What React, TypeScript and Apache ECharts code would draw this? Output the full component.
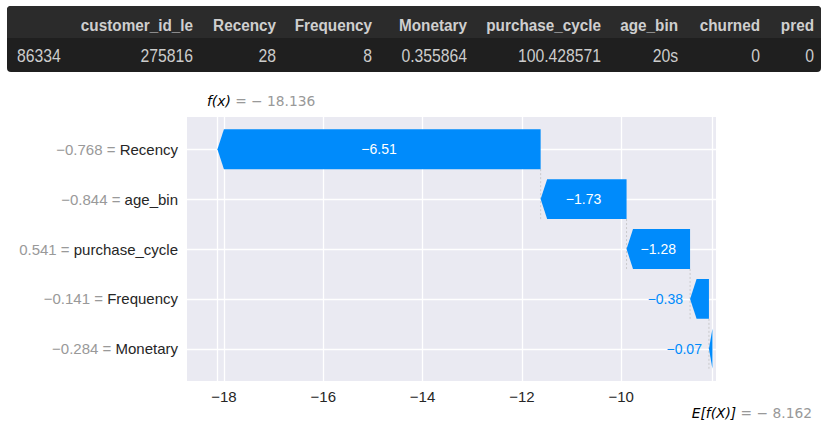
import React, { useEffect, useRef } from "react";
import * as echarts from "echarts";

// ---- table data ----
const tableColumns = ["", "customer_id_le", "Recency", "Frequency", "Monetary", "purchase_cycle", "age_bin", "churned", "pred"];
const tableRow = ["86334", "275816", "28", "8", "0.355864", "100.428571", "20s", "0", "0"];

// ---- waterfall data ----
const features = ["Recency", "age_bin", "purchase_cycle", "Frequency", "Monetary"];
const featureValues = [-0.768, -0.844, 0.541, -0.141, -0.284];
const shapValues = [-6.51, -1.73, -1.28, -0.38, -0.07];
const baseValue = -8.162;
const fxValue = -18.136;
const xTicks = [-18, -16, -14, -12, -10];

// layout (not data)
const colRightEdges = [0, 193, 276, 372, 467, 601, 678, 760, 814];

const BLUE = "#008bfb";
const fmt = (v: number, d: number) => v.toFixed(d).replace("-", "\u2212");

let measureCtx: CanvasRenderingContext2D | null = null;
function textWidth(t: string, size: number) {
  if (!measureCtx) measureCtx = document.createElement("canvas").getContext("2d");
  if (!measureCtx) return t.length * size * 0.55;
  measureCtx.font = `${size}px "Liberation Sans", Arial, sans-serif`;
  return measureCtx.measureText(t).width;
}

export default function App() {
  const ref = useRef<HTMLDivElement>(null);
  useEffect(() => {
    if (!ref.current) return;
    const chart = echarts.init(ref.current, undefined, { renderer: "svg" });

    // cumulative from base at bottom row upwards
    const bars: number[][] = [];
    let running = baseValue;
    for (let i = features.length - 1; i >= 0; i--) {
      const start = running;
      const end = running + shapValues[i];
      bars[i] = [start, end, i, shapValues[i]];
      running = end;
    }
    const connectors: number[][] = [];
    for (let i = 0; i < features.length - 1; i++) {
      connectors.push([bars[i][0], i]);
    }

    const font = '"Liberation Sans", Arial, sans-serif';
    const valSize = 14;

    const tableGraphics: any[] = [
      { type: "rect", shape: { x: 7, y: 6, width: 814, height: 66, r: 4 }, style: { fill: "#1f1f1f" } },
      { type: "rect", shape: { x: 7, y: 6, width: 814, height: 32, r: [4, 4, 0, 0] }, style: { fill: "#2b2b2b" } },
    ];
    tableColumns.forEach((c, i) => {
      if (!c) return;
      tableGraphics.push({
        type: "text",
        x: colRightEdges[i],
        y: 25,
        scaleX: 0.9,
        style: { text: c, x: 0, y: 0, align: "right", verticalAlign: "middle", fill: "#cfcfcf", fontSize: 17, fontWeight: "bold", fontFamily: font },
      });
    });
    tableRow.forEach((v, i) => {
      tableGraphics.push({
        type: "text",
        x: i === 0 ? 17 : colRightEdges[i],
        y: 56,
        scaleX: 0.9,
        style: { text: v, x: 0, y: 0, align: i === 0 ? "left" : "right", verticalAlign: "middle", fill: "#cccccc", fontSize: 17.5, fontFamily: font },
      });
    });

    const option: any = {
      animation: false,
      backgroundColor: "#ffffff",
      grid: { left: 187, top: 117, width: 529, height: 264, show: true, backgroundColor: "#eaeaf2", borderWidth: 0 },
      xAxis: {
        type: "value",
        min: -18.745,
        max: -8.09,
        axisLine: { show: false },
        axisTick: { show: false },
        splitLine: { show: false },
        axisLabel: {
          customValues: xTicks,
          formatter: (v: number) => fmt(v, 0),
          color: "#262626",
          fontSize: 15,
          fontFamily: font,
          margin: 8,
        },
      },
      yAxis: {
        type: "value",
        inverse: true,
        min: -0.645,
        max: 4.645,
        axisLine: { show: false },
        axisTick: { show: false },
        splitLine: { show: false },
        axisLabel: {
          customValues: features.map((_, i) => i),
          formatter: (v: number) => {
            const i = Math.round(v);
            return `{g|${fmt(featureValues[i], 3)} = }{b|${features[i]}}`;
          },
          margin: 9,
          rich: {
            g: { color: "#999999", fontSize: 15, fontFamily: font },
            b: { color: "#262626", fontSize: 15, fontFamily: font },
          },
        },
      },
      graphic: [
        ...tableGraphics,
        {
          type: "text",
          x: 207,
          y: 101,
          style: {
            text: "{i|f(x)}{g| = \u2212 18.136}",
            verticalAlign: "middle",
            rich: {
              i: { fill: "#000000", fontSize: 13.8, fontFamily: "DejaVu Sans", fontStyle: "italic" },
              g: { fill: "#999999", fontSize: 13.8, fontFamily: "DejaVu Sans" },
            },
          },
        },
        {
          type: "text",
          x: 812,
          y: 413,
          style: {
            text: "{i|E[f(X)]}{g| = \u2212 8.162}",
            align: "right",
            verticalAlign: "middle",
            rich: {
              i: { fill: "#000000", fontSize: 13.8, fontFamily: "DejaVu Sans", fontStyle: "italic" },
              g: { fill: "#999999", fontSize: 13.8, fontFamily: "DejaVu Sans" },
            },
          },
        },
      ],
      series: [
        {
          type: "custom",
          z: 1,
          silent: true,
          data: connectors,
          renderItem: (params: any, api: any) => {
            const x = api.value(0);
            const r = api.value(1);
            const a = api.coord([x, r + 0.4]);
            const b = api.coord([x, r + 1.4]);
            return {
              type: "line",
              shape: { x1: a[0], y1: a[1], x2: b[0], y2: b[1] },
              style: { stroke: "#bbbbbb", lineWidth: 0.7, lineDash: [2, 2] },
            };
          },
          markLine: {
            silent: true,
            z: 1,
            symbol: ["none", "none"],
            label: { show: false },
            lineStyle: { color: "#ffffff", width: 1.3, type: "solid" },
            emphasis: { disabled: true },
            data: [
              ...xTicks.map((t) => ({ xAxis: t })),
              { xAxis: fxValue },
              { xAxis: baseValue },
              ...features.map((_, i) => ({ yAxis: i })),
            ],
          },
        },
        {
          type: "custom",
          z: 4,
          silent: true,
          data: bars,
          renderItem: (params: any, api: any) => {
            const s = api.value(0);
            const e = api.value(1);
            const row = api.value(2);
            const v = api.value(3);
            const p0 = api.coord([s, row]);
            const p1 = api.coord([e, row]);
            const h = api.size([0, 0.8])[1] / 2;
            const cy = p0[1];
            const w = Math.abs(p1[0] - p0[0]);
            const dir = p1[0] < p0[0] ? -1 : 1;
            const head = Math.min(6.5, w);
            const hx = p1[0] - dir * head;
            const points = [
              [p0[0], cy - h],
              [hx, cy - h],
              [p1[0], cy],
              [hx, cy + h],
              [p0[0], cy + h],
            ];
            const label = fmt(v, 2);
            const tw = textWidth(label, valSize);
            const fits = w > tw + 20;
            const text = fits
              ? { type: "text", style: { text: label, x: (p0[0] + p1[0]) / 2, y: cy, align: "center", verticalAlign: "middle", fill: "#ffffff", fontSize: valSize, fontFamily: font } }
              : { type: "text", style: { text: label, x: p1[0] + dir * 7, y: cy, align: dir < 0 ? "right" : "left", verticalAlign: "middle", fill: BLUE, fontSize: valSize, fontFamily: font } };
            return {
              type: "group",
              children: [{ type: "polygon", shape: { points }, style: { fill: BLUE } }, text],
            };
          },
        },
      ],
    };
    chart.setOption(option);
    return () => chart.dispose();
  }, []);
  return <div ref={ref} style={{ position: "fixed", left: 0, top: 0, width: 825, height: 442 }} />;
}
